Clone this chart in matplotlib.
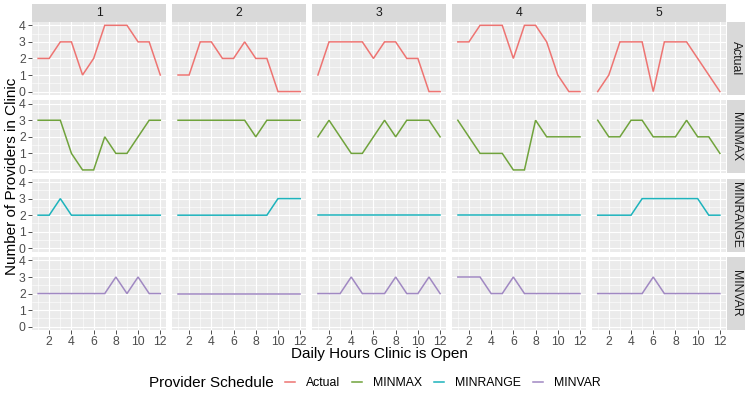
import matplotlib
matplotlib.use("Agg")
import matplotlib.pyplot as plt
from matplotlib.lines import Line2D

plt.rcParams['font.family'] = ['Liberation Sans', 'DejaVu Sans']

# data
hours = [1, 2, 3, 4, 5, 6, 7, 8, 9, 10, 11, 12]
clinics = ['1', '2', '3', '4', '5']
schedules = ['Actual', 'MINMAX', 'MINRANGE', 'MINVAR']

actual = [
    [2, 2, 3, 3, 1, 2, 4, 4, 4, 3, 3, 1],
    [1, 1, 3, 3, 2, 2, 3, 2, 2, 0, 0, 0],
    [1, 3, 3, 3, 3, 2, 3, 3, 2, 2, 0, 0],
    [3, 3, 4, 4, 4, 2, 4, 4, 3, 1, 0, 0],
    [0, 1, 3, 3, 3, 0, 3, 3, 3, 2, 1, 0],
]
minmax = [
    [3, 3, 3, 1, 0, 0, 2, 1, 1, 2, 3, 3],
    [3, 3, 3, 3, 3, 3, 3, 2, 3, 3, 3, 3],
    [2, 3, 2, 1, 1, 2, 3, 2, 3, 3, 3, 2],
    [3, 2, 1, 1, 1, 0, 0, 3, 2, 2, 2, 2],
    [3, 2, 2, 3, 3, 2, 2, 2, 3, 2, 2, 1],
]
minrange = [
    [2, 2, 3, 2, 2, 2, 2, 2, 2, 2, 2, 2],
    [2, 2, 2, 2, 2, 2, 2, 2, 2, 3, 3, 3],
    [2, 2, 2, 2, 2, 2, 2, 2, 2, 2, 2, 2],
    [2, 2, 2, 2, 2, 2, 2, 2, 2, 2, 2, 2],
    [2, 2, 2, 2, 3, 3, 3, 3, 3, 3, 2, 2],
]
minvar = [
    [2, 2, 2, 2, 2, 2, 2, 3, 2, 3, 2, 2],
    [2, 2, 2, 2, 2, 2, 2, 2, 2, 2, 2, 2],
    [2, 2, 2, 3, 2, 2, 2, 3, 2, 2, 3, 2],
    [3, 3, 3, 2, 2, 3, 2, 2, 2, 2, 2, 2],
    [2, 2, 2, 2, 2, 3, 2, 2, 2, 2, 2, 2],
]
colors = ['#EE7472', '#70A33C', '#1DB3BC', '#A088C2']

series = [actual, minmax, minrange, minvar]

W, H = 750, 393
fig = plt.figure(figsize=(W / 100, H / 100), dpi=100)


def rect(x0, y0, w, h):
    # pixel box (top-left origin) -> figure fraction
    return [x0 / W, 1 - (y0 + h) / H, w / W, h / H]


left, right, top, bottom = 32, 726, 22, 330
gap = 5.5
pw = (right - left - 4 * gap) / 5
ph = (bottom - top - 3 * gap) / 4

for r in range(4):
    for c in range(5):
        x0 = left + c * (pw + gap)
        y0 = top + r * (ph + gap)
        ax = fig.add_axes(rect(x0, y0, pw, ph))
        ax.set_facecolor('#EBEBEB')
        for s in ax.spines.values():
            s.set_visible(False)
        ax.set_axisbelow(True)
        ax.plot(hours, series[r][c], color=colors[r], lw=1.1, solid_joinstyle='miter')
        ax.set_xlim(0.45, 12.55)
        ax.set_ylim(-0.2, 4.2)
        ax.set_xticks([2, 4, 6, 8, 10, 12])
        ax.set_xticks([1, 3, 5, 7, 9, 11], minor=True)
        ax.set_yticks([0, 1, 2, 3, 4])
        ax.set_yticks([0.5, 1.5, 2.5, 3.5], minor=True)
        ax.grid(which='major', color='white', lw=0.8)
        ax.grid(which='minor', color='white', lw=0.4)
        ax.tick_params(which='minor', length=0)
        ax.tick_params(which='major', length=3, width=0.6, color='#333333',
                       labelsize=8.8, labelcolor='#4D4D4D', pad=1.5)
        if c > 0:
            ax.tick_params(axis='y', left=False, labelleft=False)
        if r < 3:
            ax.tick_params(axis='x', bottom=False, labelbottom=False)
        # top strips
        if r == 0:
            sa = fig.add_axes(rect(x0, 4, pw, top - 4))
            sa.set_facecolor('#D9D9D9')
            sa.set_xticks([]); sa.set_yticks([])
            for s in sa.spines.values():
                s.set_visible(False)
            sa.text(0.5, 0.5, clinics[c], ha='center', va='center',
                    fontsize=8.8, color='#1A1A1A', transform=sa.transAxes)
        # right strips
        if c == 4:
            sa = fig.add_axes(rect(right + 1, y0, 18, ph))
            sa.set_facecolor('#D9D9D9')
            sa.set_xticks([]); sa.set_yticks([])
            for s in sa.spines.values():
                s.set_visible(False)
            sa.text(0.5, 0.5, schedules[r], ha='center', va='center', rotation=-90,
                    fontsize=8.8, color='#1A1A1A', transform=sa.transAxes)

fig.text(12 / W, 1 - (top + bottom) / 2 / H, 'Number of Providers in Clinic',
         rotation=90, ha='center', va='center', fontsize=11)
fig.text((left + right) / 2 / W, 1 - 354 / H, 'Daily Hours Clinic is Open',
         ha='center', va='center', fontsize=11)

# legend
fig.text(149 / W, 1 - 383 / H, 'Provider Schedule', ha='left', va='center', fontsize=11)
handles = [Line2D([], [], color=colors[i], lw=1.1) for i in range(4)]
fig.legend(handles, schedules, loc='center left', bbox_to_anchor=(285 / W, 1 - 383 / H),
           ncol=4, frameon=False, fontsize=8.8, handlelength=0.8, handletextpad=0.9,
           columnspacing=1.0, borderpad=0, borderaxespad=0)

fig.savefig('out.png', dpi=100)
